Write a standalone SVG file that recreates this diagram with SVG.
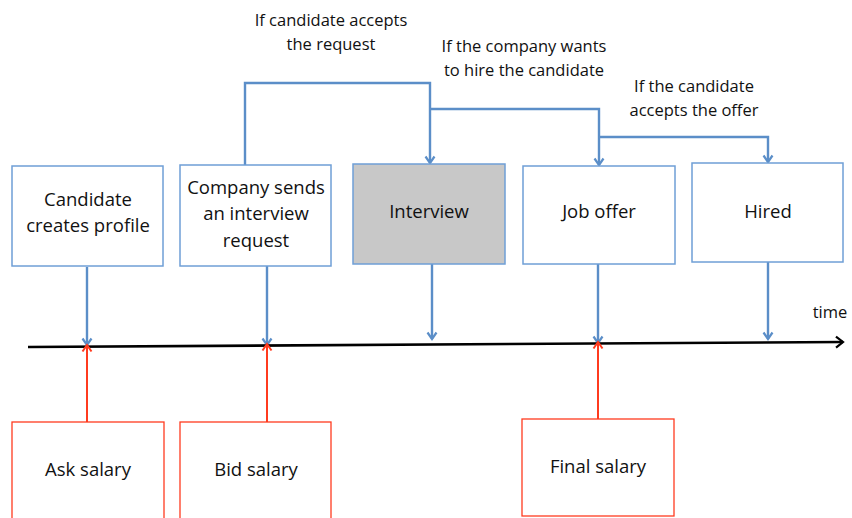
<svg xmlns="http://www.w3.org/2000/svg" width="852" height="518" viewBox="0 0 852 518">
<defs>
<marker id="ab" markerWidth="12" markerHeight="12" refX="10" refY="6" orient="auto" markerUnits="userSpaceOnUse" viewBox="0 0 12 12">
<polyline points="3.5,1.5 10,6 3.5,10.5" fill="none" stroke="#5b8ec8" stroke-width="2.2"/>
</marker>
<marker id="ar" markerWidth="12" markerHeight="12" refX="10" refY="6" orient="auto" markerUnits="userSpaceOnUse" viewBox="0 0 12 12">
<polyline points="3.5,1.5 10,6 3.5,10.5" fill="none" stroke="#ff3b1f" stroke-width="2"/>
</marker>
<marker id="ak" markerWidth="14" markerHeight="14" refX="12" refY="7" orient="auto" markerUnits="userSpaceOnUse" viewBox="0 0 14 14">
<polyline points="5,1.5 12,7 5,12.5" fill="none" stroke="#000" stroke-width="2.2"/>
</marker>
</defs>
<style>
.b{fill:#fff;stroke:#6f9fd6;stroke-width:1.5}
.g{fill:#c8c8c8;stroke:#6f9fd6;stroke-width:1.5}
.r{fill:#fff;stroke:#ff3b1f;stroke-width:1.3}
.t{font-family:"Open Sans","Liberation Sans",sans-serif;font-size:18.5px;fill:#111;text-anchor:middle}
.l{font-family:"Open Sans","Liberation Sans",sans-serif;font-size:16.5px;fill:#111;text-anchor:middle}
.cb{fill:none;stroke:#5b8ec8;stroke-width:2.4}
.cr{fill:none;stroke:#ff3b1f;stroke-width:2}
</style>
<g id="connectors">
<polyline class="cb" points="245,166 245,83 430,83 430,163" marker-end="url(#ab)"/>
<polyline class="cb" points="430,109 599,109 599,165" marker-end="url(#ab)"/>
<polyline class="cb" points="599,137 768,137 768,162" marker-end="url(#ab)"/>
<line class="cb" x1="87" y1="267" x2="87" y2="345" marker-end="url(#ab)"/>
<line class="cb" x1="267" y1="266" x2="267" y2="345" marker-end="url(#ab)"/>
<line class="cb" x1="432" y1="264" x2="432" y2="339" marker-end="url(#ab)"/>
<line class="cb" x1="598" y1="264" x2="598" y2="343" marker-end="url(#ab)"/>
<line class="cb" x1="768" y1="262" x2="768" y2="339" marker-end="url(#ab)"/>
<line x1="28" y1="347" x2="843" y2="342" stroke="#000" stroke-width="2.6" marker-end="url(#ak)"/>
<line class="cr" x1="87" y1="422" x2="87" y2="345" marker-end="url(#ar)"/>
<line class="cr" x1="267" y1="422" x2="267" y2="344" marker-end="url(#ar)"/>
<line class="cr" x1="598" y1="419" x2="598" y2="342" marker-end="url(#ar)"/>
</g>
<g id="n1"><rect class="b" x="12" y="166" width="151" height="100"/><text class="t" x="88" y="206">Candidate</text><text class="t" x="88" y="232">creates profile</text></g>
<g id="n2"><rect class="b" x="180" y="165" width="151" height="101"/><text class="t" x="256" y="194">Company sends</text><text class="t" x="256" y="220">an interview</text><text class="t" x="256" y="247">request</text></g>
<g id="n3"><rect class="g" x="353" y="164" width="152" height="100"/><text class="t" x="429" y="218">Interview</text></g>
<g id="n4"><rect class="b" x="523" y="166" width="152" height="98"/><text class="t" x="599" y="218">Job offer</text></g>
<g id="n5"><rect class="b" x="692" y="163" width="151" height="99"/><text class="t" x="768" y="218">Hired</text></g>
<g id="s1"><rect class="r" x="12" y="422" width="152" height="100"/><text class="t" x="88" y="476">Ask salary</text></g>
<g id="s2"><rect class="r" x="180" y="422" width="151" height="100"/><text class="t" x="256" y="476">Bid salary</text></g>
<g id="s3"><rect class="r" x="522" y="419" width="152" height="97"/><text class="t" x="598" y="473">Final salary</text></g>
<g id="labels">
<text class="l" x="331" y="26">If candidate accepts</text>
<text class="l" x="331" y="50">the request</text>
<text class="l" x="524" y="52">If the company wants</text>
<text class="l" x="524" y="76">to hire the candidate</text>
<text class="l" x="694" y="92">If the candidate</text>
<text class="l" x="694" y="116">accepts the offer</text>
<text class="l" x="830" y="318">time</text>
</g>
</svg>
